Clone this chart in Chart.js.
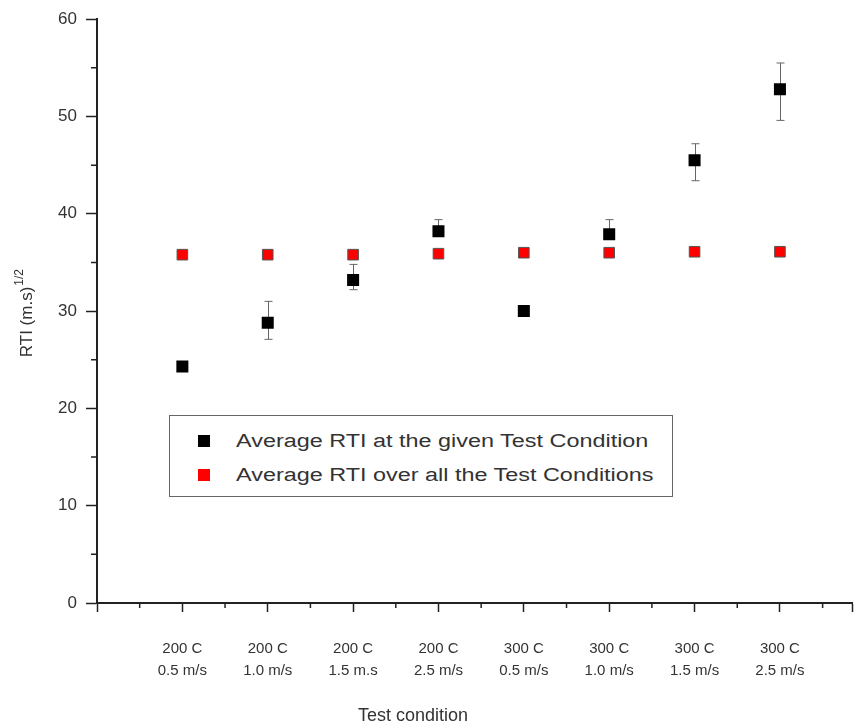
<!DOCTYPE html>
<html>
<head>
<meta charset="utf-8">
<script src="https://cdn.jsdelivr.net/npm/chart.js@4.4.1/dist/chart.umd.min.js"></script>
<style>
	body { margin: 0; background: #fff; }
	#wrap { position: relative; width: 861px; height: 727px; }
	#legend {
		position: absolute; left: 169px; top: 415px; width: 502px; height: 80px;
		border: 1px solid #666; background: #fff;
		font-family: "Liberation Sans", Arial, sans-serif; font-size: 18px; color: #333;
	}
	.row { position: absolute; left: 0; height: 22px; line-height: 22px; white-space: nowrap; }
	.box { position: absolute; left: 28px; top: 5px; width: 12px; height: 12px; }
	.txt { position: absolute; left: 66px; top: 0; transform: scaleX(1.3); transform-origin: left center; }
</style>
</head>
<body>
<div id="wrap">
	<canvas id="draw" width="861" height="727"></canvas>
	<div id="legend"></div>
</div>
<script>
const categories = [
	["200 C", "0.5 m/s"],
	["200 C", "1.0 m/s"],
	["200 C", "1.5 m.s"],
	["200 C", "2.5 m/s"],
	["300 C", "0.5 m/s"],
	["300 C", "1.0 m/s"],
	["300 C", "1.5 m/s"],
	["300 C", "2.5 m/s"],
];
const rtiMean = [24.3, 28.8, 33.2, 38.2, 30.0, 37.9, 45.5, 52.8];
const rtiErrUp = [0, 2.2, 1.6, 1.2, 0, 1.5, 1.7, 2.7];
const rtiErrDown = [0, 1.7, 1.0, 0.4, 0, 0.4, 2.1, 3.2];
const rtiOverall = [35.8, 35.8, 35.8, 35.9, 36.0, 36.0, 36.1, 36.1];
const seriesNames = ["Average RTI at the given Test Condition", "Average RTI over all the Test Conditions"];
const yTitle = "RTI (m.s)";
const yTitleSup = "1/2";
const xTitle = "Test condition";

const FONT = "'Liberation Sans', Arial, sans-serif";
const TEXT = "#333";
const AXIS = "#222";

const toPoints = (arr) => arr.map((v, i) => ({ x: i + 1, y: v }));

// error bars, minor ticks and axis titles
const extras = {
	id: "extras",
	beforeDatasetsDraw(chart) {
		const ctx = chart.ctx;
		const x = chart.scales.x, y = chart.scales.y;
		ctx.save();
		ctx.strokeStyle = "#666";
		ctx.lineWidth = 1;
		rtiMean.forEach((v, i) => {
			if (!rtiErrUp[i] && !rtiErrDown[i]) return;
			const px = Math.round(x.getPixelForValue(i + 1)) + 0.5;
			const top = y.getPixelForValue(v + rtiErrUp[i]);
			const bot = y.getPixelForValue(v - rtiErrDown[i]);
			ctx.beginPath();
			ctx.moveTo(px, top); ctx.lineTo(px, bot);
			ctx.moveTo(px - 4, top); ctx.lineTo(px + 4, top);
			ctx.moveTo(px - 4, bot); ctx.lineTo(px + 4, bot);
			ctx.stroke();
		});
		ctx.restore();
	},
	afterDraw(chart) {
		const ctx = chart.ctx;
		const area = chart.chartArea;
		const x = chart.scales.x, y = chart.scales.y;
		ctx.save();
		ctx.strokeStyle = AXIS;
		ctx.lineWidth = 1.5;
		ctx.beginPath();
		for (let v = 5; v < 60; v += 10) {
			const py = y.getPixelForValue(v);
			ctx.moveTo(area.left - 6, py); ctx.lineTo(area.left, py);
		}
		for (let v = 0.5; v < 8.85; v += 1) {
			const px = x.getPixelForValue(v);
			ctx.moveTo(px, area.bottom); ctx.lineTo(px, area.bottom + 5);
		}
		ctx.stroke();

		ctx.fillStyle = TEXT;
		ctx.textBaseline = "middle";
		ctx.textAlign = "center";
		ctx.font = "18px " + FONT;
		ctx.fillText(xTitle, 413, 716);

		ctx.translate(27, (area.top + area.bottom) / 2 + 2);
		ctx.rotate(-Math.PI / 2);
		ctx.textAlign = "left";
		ctx.font = "17px " + FONT;
		const w1 = ctx.measureText(yTitle).width;
		ctx.font = "12px " + FONT;
		const w2 = ctx.measureText(yTitleSup).width;
		const start = -(w1 + w2 + 1) / 2;
		ctx.font = "17px " + FONT;
		ctx.fillText(yTitle, start, 0);
		ctx.font = "12px " + FONT;
		ctx.fillText(yTitleSup, start + w1 + 1, -7);
		ctx.restore();
	},
};

const config = {
	type: "scatter",
	data: {
		datasets: [
			{
				label: seriesNames[0],
				data: toPoints(rtiMean),
				pointStyle: "rect",
				pointRadius: 8.5,
				pointHoverRadius: 8.5,
				backgroundColor: "#000",
				borderColor: "#000",
				borderWidth: 0,
			},
			{
				label: seriesNames[1],
				data: toPoints(rtiOverall),
				pointStyle: "rect",
				pointRadius: 7.5,
				pointHoverRadius: 7.5,
				backgroundColor: "#ff0000",
				borderColor: "#555",
				borderWidth: 1,
			},
		],
	},
	options: {
		responsive: false,
		animation: false,
		events: [],
		layout: { padding: { top: 18, right: 0, left: 0, bottom: 0 } },
		plugins: {
			legend: { display: false },
			tooltip: { enabled: false },
		},
		scales: {
			x: {
				type: "linear",
				min: 0,
				max: 8.85,
				afterFit: (scale) => {
					scale.height = 124;
					scale.paddingRight = 0;
					scale.paddingLeft = 0;
				},
				border: { color: AXIS, width: 2 },
				grid: { drawOnChartArea: false, tickLength: 9, tickColor: AXIS, tickWidth: 1.5 },
				ticks: {
					stepSize: 1,
					padding: 26,
					maxRotation: 0,
					autoSkip: false,
					color: TEXT,
					font: { family: FONT, size: 15, lineHeight: 1.45 },
					callback: (v) => categories[v - 1] || "",
				},
			},
			y: {
				min: 0,
				max: 60,
				afterFit: (scale) => { scale.width = 97; },
				border: { color: AXIS, width: 2 },
				grid: { drawOnChartArea: false, tickLength: 11, tickColor: AXIS, tickWidth: 1.5 },
				ticks: {
					stepSize: 10,
					padding: 9,
					color: TEXT,
					font: { family: FONT, size: 17 },
				},
			},
		},
	},
	plugins: [extras],
};

const myChart = new Chart(document.getElementById("draw").getContext("2d"), config);

// legend box inside the plot, built from the datasets
const legend = document.getElementById("legend");
myChart.data.datasets.forEach((ds, i) => {
	const row = document.createElement("div");
	row.className = "row";
	row.style.top = (14 + i * 34) + "px";
	row.innerHTML = `<span class="box" style="background:${ds.backgroundColor}"></span><span class="txt">${ds.label}</span>`;
	legend.appendChild(row);
});
</script>
</body>
</html>
